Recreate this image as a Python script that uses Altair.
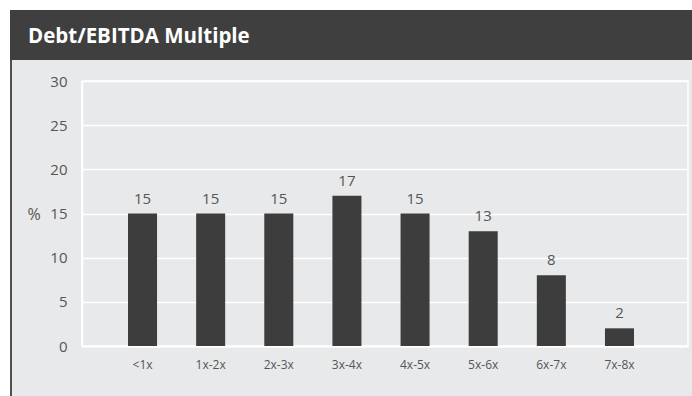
import altair as alt
import pandas as pd

# Share of deals by Debt/EBITDA bucket (%)
categories = ["<1x", "1x-2x", "2x-3x", "3x-4x", "4x-5x", "5x-6x", "6x-7x", "7x-8x"]
shares = [15, 15, 15, 17, 15, 13, 8, 2]
y_ticks = [0, 5, 10, 15, 20, 25, 30]
title_text = "Debt/EBITDA Multiple"

FONT = "Open Sans"
PANEL_BG = "#e8e9eb"
DARK = "#3d3d3d"
TEXT = "#555555"

df = pd.DataFrame({"bucket": categories, "share": shares})
one = pd.DataFrame({"label": [title_text]})

x_enc = alt.X(
    "bucket:N",
    sort=categories,
    scale=alt.Scale(paddingInner=0.574, paddingOuter=0.734, align=0.46),
    axis=alt.Axis(
        title=None, labelAngle=0, ticks=False, grid=False,
        domainColor="white", domainWidth=2,
        labelFontSize=12, labelPadding=13, labelColor=TEXT, labelFont=FONT,
    ),
)
y_enc = alt.Y(
    "share:Q",
    scale=alt.Scale(domain=[0, 30], nice=False),
    axis=alt.Axis(
        values=y_ticks, title="%", titleAngle=0, titleX=-55, titleY=133,
        titleAlign="left", titleBaseline="middle", titleFontWeight="normal",
        titleFontSize=16, titleColor=TEXT, titleFont=FONT,
        ticks=False, domainColor="white", domainWidth=1.5,
        gridColor="white", gridWidth=1.5,
        labelFontSize=15, labelPadding=15, labelColor=TEXT, labelFont=FONT,
    ),
)

base = alt.Chart(df)
bars = base.mark_bar(color=DARK).encode(x=x_enc, y=y_enc)
values = base.mark_text(
    baseline="bottom", dy=-7, fontSize=15, color=TEXT, font=FONT
).encode(x=alt.X("bucket:N", sort=categories), y="share:Q", text=alt.Text("share:Q", format=".0f"))

# Frame around the panel: white margin, dark header band, left border
deco = alt.Chart(one)
white_top = deco.mark_rect(color="white").encode(
    x=alt.value(-82), x2=alt.value(610), y=alt.value(-81), y2=alt.value(-71))
white_left = deco.mark_rect(color="white").encode(
    x=alt.value(-82), x2=alt.value(-72), y=alt.value(-81), y2=alt.value(315))
border = deco.mark_rect(color="#505050").encode(
    x=alt.value(-72), x2=alt.value(-70), y=alt.value(-21), y2=alt.value(315))
header = deco.mark_rect(color="#3f3f3f").encode(
    x=alt.value(-72), x2=alt.value(610), y=alt.value(-71), y2=alt.value(-21))
title = deco.mark_text(
    align="left", baseline="alphabetic", font=FONT, fontSize=20.5,
    fontWeight="bold", color="white",
).encode(x=alt.value(-54), y=alt.value(-38), text="label:N")

chart = (
    alt.layer(white_top, white_left, border, header, title, bars, values)
    .properties(
        width=606, height=265,
        autosize=alt.AutoSizeParams(type="none"),
        padding={"left": 82, "top": 81, "right": 4, "bottom": 50},
    )
    .configure(background=PANEL_BG)
    .configure_view(stroke="white", strokeWidth=1.5)
)

chart.save("out.html", embed_options={"renderer": "svg", "actions": False})
